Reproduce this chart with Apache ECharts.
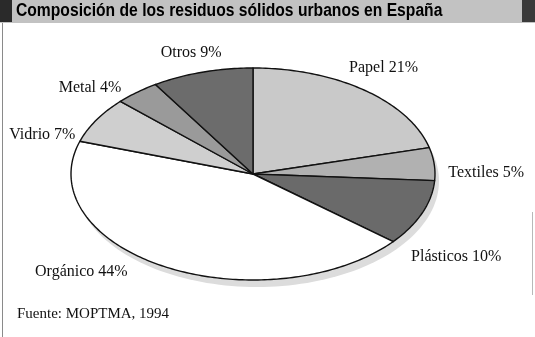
<!DOCTYPE html>
<html>
<head>
<meta charset="utf-8">
<script src="https://cdn.jsdelivr.net/npm/echarts@6/dist/echarts.min.js"></script>
<style>
html,body{margin:0;padding:0;background:#fff;}
#c{width:535px;height:337px;}
</style>
</head>
<body>
<div id="c"></div>
<script>
// ---- data ----
const categories = ['Papel', 'Textiles', 'Plásticos', 'Orgánico', 'Vidrio', 'Metal', 'Otros'];
const values = [21, 5, 10, 44, 7, 4, 9];
const titleText = 'Composición de los residuos sólidos urbanos en España';
const sourceText = 'Fuente: MOPTMA, 1994';

// ---- style / layout ----
const sliceColors = ['#c9c9c9', '#b1b1b1', '#6a6a6a', '#ffffff', '#cfcfcf', '#9a9a9a', '#6c6c6c'];
const PIE = { cx: 253, cy: 174, rx: 182, ry: 106, start: 90 };
const SHADOW = { dx: 4, dy: 7, color: '#dcdcdc' };
const labelNudge = [[19, -22], [52, 9], [34, 44], [-84, 5], [-54, 15], [-47, -5], [-11, -19]];

const total = values.reduce((a, b) => a + b, 0);
const cum = [];
values.reduce((acc, v, i) => { cum[i] = acc; return acc + v; }, 0);

function ellPt(deg, dx, dy) {
  const t = deg * Math.PI / 180;
  return [PIE.cx + (dx || 0) + PIE.rx * Math.cos(t), PIE.cy + (dy || 0) - PIE.ry * Math.sin(t)];
}

const chart = echarts.init(document.getElementById('c'), null, { renderer: 'canvas' });
chart.setOption({
  animation: false,
  backgroundColor: '#ffffff',
  title: [{
    text: sourceText,
    left: 17, top: 305, padding: 0,
    textStyle: { fontFamily: 'Liberation Serif', fontWeight: 'normal', fontSize: 15, lineHeight: 18, color: '#111' }
  }],
  graphic: [
    { type: 'rect', left: 0, top: 0, shape: { width: 535, height: 23 }, style: { fill: '#c2c2c2' }, z: 1 },
    { type: 'rect', left: 0, top: 0, shape: { width: 12, height: 22 }, style: { fill: '#2a2a2a' }, z: 2 },
    { type: 'rect', left: 522, top: 0, shape: { width: 13, height: 22 }, style: { fill: '#3a3a3a' }, z: 2 },
    { type: 'line', shape: { x1: 2.5, y1: 23, x2: 2.5, y2: 337 }, style: { stroke: '#8a8a8a', lineWidth: 1 }, z: 2 },
    { type: 'line', shape: { x1: 532.5, y1: 212, x2: 532.5, y2: 295 }, style: { stroke: '#b8b8b8', lineWidth: 1 }, z: 2 },
    {
      type: 'text', x: 16, y: 11.5, scaleX: 0.87, z: 5,
      style: {
        text: titleText, fontFamily: 'Liberation Sans', fontWeight: 'bold', fontSize: 18,
        fill: '#000', verticalAlign: 'middle', align: 'left'
      }
    }
  ],
  series: [{
    type: 'custom',
    coordinateSystem: 'none',
    z: 1,
    data: [total],
    renderItem: function (params, api) {
      const pts = [];
      for (let d = 0; d < 360; d += 2) pts.push(ellPt(d, SHADOW.dx, SHADOW.dy));
      return { type: 'polygon', shape: { points: pts }, style: { fill: SHADOW.color } };
    }
  }, {
    type: 'custom',
    coordinateSystem: 'none',
    z: 2,
    data: values.map((v, i) => ({ name: categories[i], value: v })),
    renderItem: function (params, api) {
      const i = params.dataIndex;
      const v = api.value(0);
      const a0 = PIE.start - cum[i] / total * 360;
      const a1 = a0 - v / total * 360;
      const pts = [[PIE.cx, PIE.cy]];
      const steps = Math.max(4, Math.ceil((a0 - a1) / 1));
      for (let k = 0; k <= steps; k++) pts.push(ellPt(a0 + (a1 - a0) * k / steps));
      const mid = ellPt((a0 + a1) / 2);
      const n = labelNudge[i];
      return {
        type: 'group',
        children: [{
          type: 'polygon',
          shape: { points: pts },
          style: { fill: sliceColors[i], stroke: '#111', lineWidth: 1.4, lineJoin: 'round' }
        }, {
          type: 'text',
          x: mid[0] + n[0], y: mid[1] + n[1],
          style: {
            text: categories[i] + ' ' + v + '%',
            fontFamily: 'Liberation Serif', fontSize: 16,
            fill: '#111', align: 'center', verticalAlign: 'middle'
          }
        }]
      };
    }
  }]
});
</script>
</body>
</html>
